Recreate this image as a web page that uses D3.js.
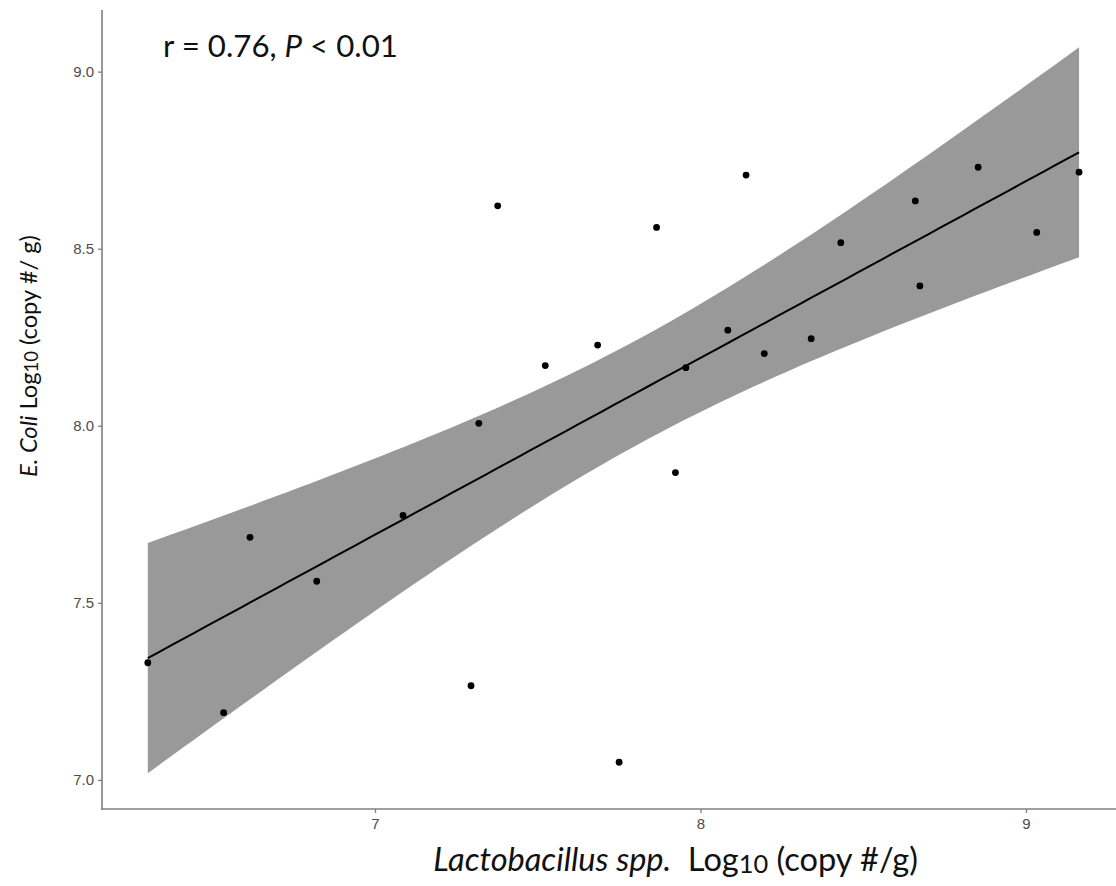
<!DOCTYPE html>
<html>
<head>
<meta charset="utf-8">
<script src="https://cdn.jsdelivr.net/npm/d3@7"></script>
<style>
  html, body { margin: 0; padding: 0; background: #ffffff; }
  svg { display: block; }
</style>
</head>
<body>
<svg id="chart" width="1116" height="886"></svg>
<script>
// Lactobacillus spp. vs E. coli abundance (log10 copies per gram)
const lactobacillus = [6.302, 6.535, 6.616, 6.821, 7.086, 7.295, 7.319, 7.377, 7.523, 7.684, 7.750, 7.865,
                       7.923, 7.955, 8.084, 8.140, 8.196, 8.340, 8.431, 8.660, 8.674, 8.853, 9.033, 9.163];
const eColi        = [7.331, 7.190, 7.685, 7.561, 7.747, 7.266, 8.007, 8.621, 8.170, 8.228, 7.050, 8.560,
                       7.868, 8.164, 8.270, 8.708, 8.204, 8.246, 8.517, 8.635, 8.395, 8.730, 8.546, 8.716];
const xTicks = [7, 8, 9];
const yTicks = [7.0, 7.5, 8.0, 8.5, 9.0];
const statLabel = { r: "0.76", p: "0.01" };

const svg = d3.select("#chart");
const W = 1116, H = 886;
const plot = { left: 102, right: 1116, top: 10, bottom: 809 };

// panel limits (data range plus the usual 5% padding)
const x = d3.scaleLinear().domain([6.1613, 9.2765]).range([plot.left, plot.right]);
const y = d3.scaleLinear().domain([6.918, 9.174]).range([plot.bottom, plot.top]);

const pts = lactobacillus.map((v, i) => ({ x: v, y: eColi[i] }));

// ordinary least squares fit with 95% confidence band
const n = pts.length;
const mx = d3.mean(pts, d => d.x), my = d3.mean(pts, d => d.y);
const sxx = d3.sum(pts, d => (d.x - mx) ** 2);
const sxy = d3.sum(pts, d => (d.x - mx) * (d.y - my));
const slope = sxy / sxx, intercept = my - slope * mx;
const sse = d3.sum(pts, d => (d.y - intercept - slope * d.x) ** 2);
const sigma = Math.sqrt(sse / (n - 2));
const tCrit = 2.0739; // t(0.975, df = 22)
const [xLo, xHi] = d3.extent(pts, d => d.x);
const fit = d3.range(0, 81).map(k => {
  const xv = xLo + (xHi - xLo) * k / 80;
  const yv = intercept + slope * xv;
  const se = sigma * Math.sqrt(1 / n + (xv - mx) ** 2 / sxx);
  return { x: xv, y: yv, lo: yv - tCrit * se, hi: yv + tCrit * se };
});

const g = svg.append("g");

// confidence band
g.append("path")
  .datum(fit)
  .attr("fill", "#999999")
  .attr("d", d3.area().x(d => x(d.x)).y0(d => y(d.lo)).y1(d => y(d.hi)));

// fitted line
g.append("path")
  .datum(fit)
  .attr("fill", "none")
  .attr("stroke", "#000")
  .attr("stroke-width", 2)
  .attr("d", d3.line().x(d => x(d.x)).y(d => y(d.y)));

// observations
g.selectAll("circle.pt")
  .data(pts)
  .join("circle")
  .attr("class", "pt")
  .attr("cx", d => x(d.x))
  .attr("cy", d => y(d.y))
  .attr("r", 3.4)
  .attr("fill", "#000");

// axes
const axisColor = "#7f7f7f";
const tickText = "#4d4d4d";

const yAxis = svg.append("g")
  .attr("transform", `translate(${plot.left},0)`)
  .call(d3.axisLeft(y).tickValues(yTicks).tickFormat(d3.format(".1f")).tickSize(4).tickPadding(4));
const xAxis = svg.append("g")
  .attr("transform", `translate(0,${plot.bottom})`)
  .call(d3.axisBottom(x).tickValues(xTicks).tickFormat(d3.format("d")).tickSize(4).tickPadding(5));

[yAxis, xAxis].forEach(a => {
  a.select(".domain").remove();
  a.selectAll(".tick line").attr("stroke", axisColor).attr("stroke-width", 1.3);
  a.selectAll(".tick text")
    .attr("fill", tickText)
    .style("font-family", "'Liberation Sans', Arial, sans-serif")
    .style("font-size", "15px");
});

// axis lines (L-shaped frame)
svg.append("line")
  .attr("x1", plot.left).attr("x2", plot.left)
  .attr("y1", plot.top).attr("y2", plot.bottom + 0.75)
  .attr("stroke", axisColor).attr("stroke-width", 1.6);
svg.append("line")
  .attr("x1", plot.left - 0.75).attr("x2", plot.right)
  .attr("y1", plot.bottom).attr("y2", plot.bottom)
  .attr("stroke", axisColor).attr("stroke-width", 1.6);

// scale a text element so its rendered length equals the given width
function fitWidth(sel, target) {
  const w = sel.node().getBBox().width;
  const fs = parseFloat(sel.style("font-size"));
  sel.style("font-size", (fs * target / w) + "px");
}

const titleFont = "Lato, 'Open Sans', sans-serif";

// correlation annotation
const ann = svg.append("text")
  .attr("x", 163).attr("y", 57)
  .attr("fill", "#111")
  .style("font-family", titleFont)
  .style("font-size", "30px");
ann.append("tspan").text(`r = ${statLabel.r}, `);
ann.append("tspan").style("font-style", "italic").text("P");
ann.append("tspan").text(` < ${statLabel.p}`);
fitWidth(ann, 235);

// x-axis title
const xt = svg.append("text")
  .attr("x", 675.5).attr("y", 871)
  .attr("text-anchor", "middle")
  .attr("fill", "#111")
  .style("font-family", titleFont)
  .style("font-size", "30px");
xt.append("tspan").style("font-style", "italic").text("Lactobacillus spp.");
xt.append("tspan").text("\u00a0 Log");
xt.append("tspan").style("font-size", "0.78em").attr("dy", "0.06em").text("10");
xt.append("tspan").attr("dy", "-0.05em").text(" (copy #/g)");
fitWidth(xt, 485);

// y-axis title
const yt = svg.append("text")
  .attr("transform", "translate(37,356) rotate(-90)")
  .attr("text-anchor", "middle")
  .attr("fill", "#111")
  .style("font-family", titleFont)
  .style("font-size", "26px");
yt.append("tspan").style("font-style", "italic").text("E. Coli");
yt.append("tspan").text(" Log");
yt.append("tspan").style("font-size", "0.78em").attr("dy", "0.06em").text("10");
yt.append("tspan").attr("dy", "-0.05em").text(" (copy #/ g)");
fitWidth(yt, 242);
</script>
</body>
</html>
